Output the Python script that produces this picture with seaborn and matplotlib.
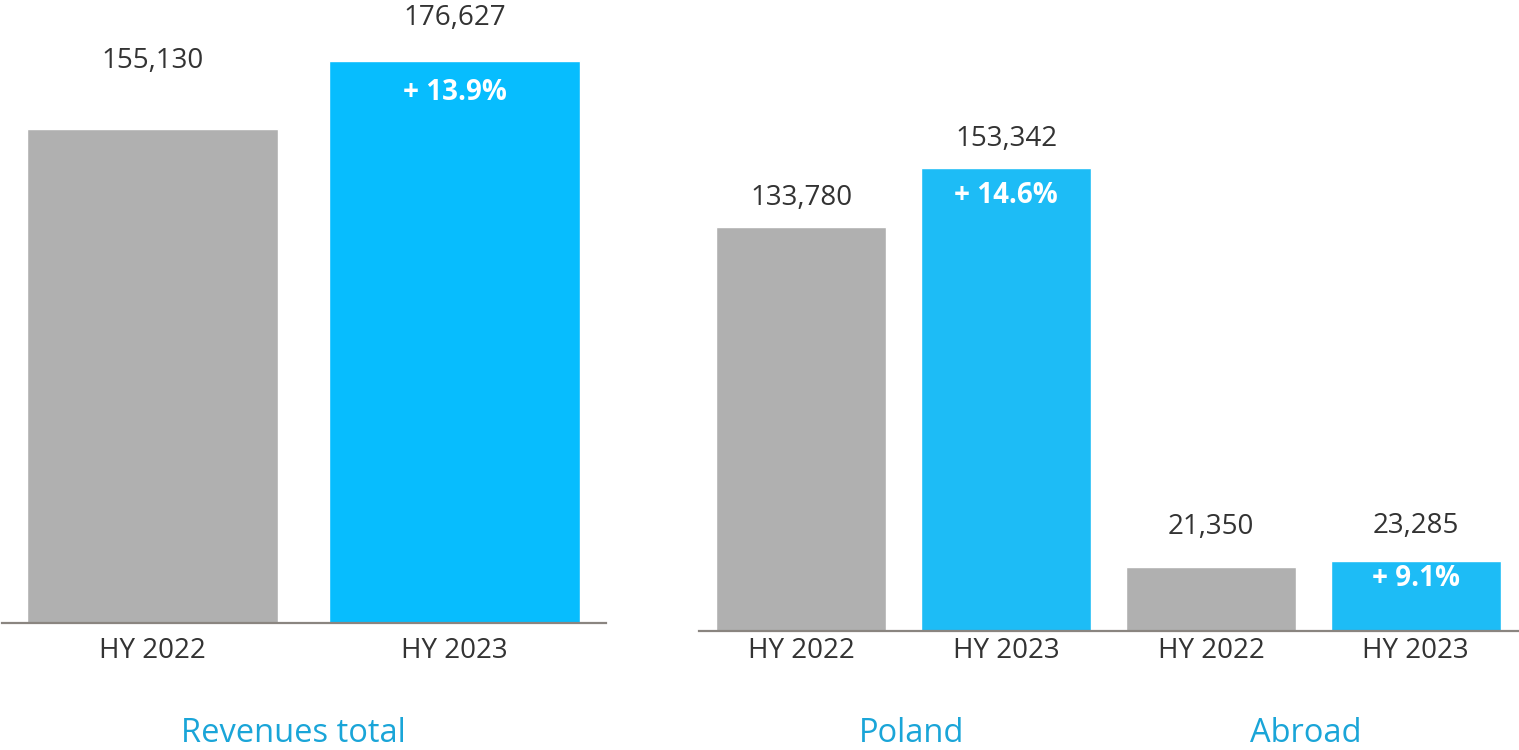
import matplotlib
matplotlib.use("Agg")
import matplotlib.pyplot as plt
import seaborn as sns
import pandas as pd

# ---- data ----
total_periods = ["HY 2022", "HY 2023"]
total_values = [155130, 176627]
total_growth = ["+ 13.9%"]

segment_groups = ["Poland", "Poland", "Abroad", "Abroad"]
segment_periods = ["HY 2022", "HY 2023", "HY 2022", "HY 2023"]
segment_values = [133780, 153342, 21350, 23285]
segment_growth = ["+ 14.6%", "+ 9.1%"]

panel_titles = ["Revenues total", "Poland", "Abroad"]

# ---- style ----
sns.set_theme(style="white")
plt.rcParams["font.family"] = ["Open Sans", "DejaVu Sans"]

GRAY = "#B0B0B0"
BLUE_L = "#07BDFE"
BLUE_R = "#1DBCF6"
TXT = "#333333"
TITLE = "#1AA5D8"
SPINE = "#8A8580"

fig = plt.figure(figsize=(15.19, 7.5), dpi=100)
W, H = 1519, 750

axL = fig.add_axes([1.5 / W, (H - 623) / H, 604 / W, 623 / H])
axR = fig.add_axes([699 / W, (H - 631) / H, 819 / W, 631 / H])

dfL = pd.DataFrame({"key": total_periods, "value": total_values})
sns.barplot(data=dfL, x="key", y="value", hue="key", palette=[GRAY, BLUE_L],
            width=0.83, legend=False, ax=axL, saturation=1)

keysR = [f"{g} {p}" for g, p in zip(segment_groups, segment_periods)]
dfR = pd.DataFrame({"key": keysR, "value": segment_values})
sns.barplot(data=dfR, x="key", y="value", hue="key",
            palette=[GRAY, BLUE_R, GRAY, BLUE_R],
            width=0.83, legend=False, ax=axR, saturation=1)

axL.set_ylim(0, 195665)
axR.set_ylim(0, 208940)

label_off_L = [68, 43]
label_off_R = [29, 29, 40, 35]
pct_off_L = [-32]
pct_off_R = [-28, -18]

FS = 20
for i, v in enumerate(total_values):
    axL.annotate(f"{v:,}", (i, v), xytext=(0, label_off_L[i]), textcoords="offset pixels",
                 ha="center", va="center", fontsize=FS, color=TXT, annotation_clip=False)
axL.annotate(total_growth[0], (1, total_values[1]), xytext=(0, pct_off_L[0]),
             textcoords="offset pixels", ha="center", va="center", fontsize=FS,
             color="white", fontweight="bold")

for i, v in enumerate(segment_values):
    axR.annotate(f"{v:,}", (i, v), xytext=(0, label_off_R[i]), textcoords="offset pixels",
                 ha="center", va="center", fontsize=FS, color=TXT, annotation_clip=False)
for j, idx in enumerate([1, 3]):
    axR.annotate(segment_growth[j], (idx, segment_values[idx]), xytext=(0, pct_off_R[j]),
                 textcoords="offset pixels", ha="center", va="center", fontsize=FS,
                 color="white", fontweight="bold")

for ax, labels, pad in [(axL, total_periods, 10), (axR, segment_periods, 4)]:
    ax.set_xticks(range(len(labels)))
    ax.set_xticklabels(labels, fontsize=FS, color=TXT)
    ax.tick_params(axis="x", length=0, pad=pad)
    ax.set_yticks([])
    ax.set_xlabel("")
    ax.set_ylabel("")
    for s in ["top", "left", "right"]:
        ax.spines[s].set_visible(False)
    ax.spines["bottom"].set_color(SPINE)
    ax.spines["bottom"].set_linewidth(1.6)
    ax.set_facecolor("none")

TFS = 23.5
fig.text(293 / W, 1 - 734 / H, panel_titles[0], ha="center", va="center", fontsize=TFS, color=TITLE)
fig.text(912 / W, 1 - 734 / H, panel_titles[1], ha="center", va="center", fontsize=TFS, color=TITLE)
fig.text(1306 / W, 1 - 734 / H, panel_titles[2], ha="center", va="center", fontsize=TFS, color=TITLE)

fig.savefig("out.png", dpi=100)
